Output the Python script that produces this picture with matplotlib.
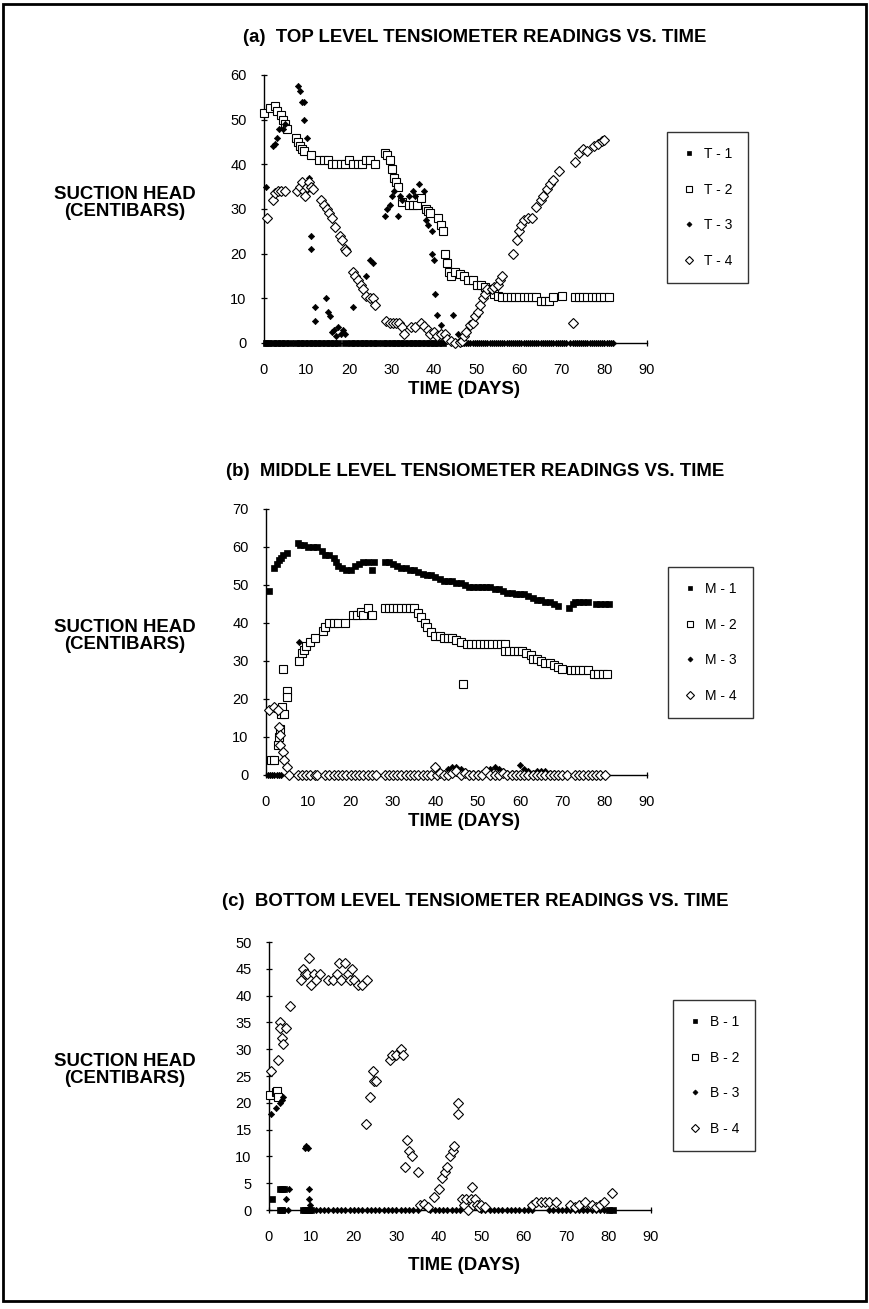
import matplotlib.pyplot as plt
from matplotlib.patches import Rectangle

plt.rcParams['font.family'] = ['Liberation Sans', 'DejaVu Sans']

### (a) TOP LEVEL ###
T1_day = [0.5, 1, 2, 3, 4, 5, 6, 7.5, 8.5, 9.5, 10.5, 11.5, 12.5, 13.5, 14.5, 15.5,
          16.5, 17.5, 19, 20.5, 21.5, 22.5, 23.5, 24.5, 25.5, 26.5, 28, 29, 30,
          31, 32, 33, 34, 35, 36, 37, 38, 39, 40, 41, 42]
T1_val = [0] * len(T1_day)

T2_day = [0, 1.5, 2.5, 3, 4, 4.5, 5, 5.5, 7.5, 8, 8.5, 9, 9.5, 11, 13, 14, 15, 16, 17,
          18, 19, 20, 21, 22, 23, 24, 25, 26, 28.5, 29, 29.5, 30, 30.5, 31, 31.5,
          32.5, 34, 35, 36, 37, 38, 38.5, 39, 41, 41.5, 42, 42.5, 43, 43.5, 44, 45,
          46, 47, 48, 49, 50, 51, 52, 53, 54, 55, 56, 57, 58, 59, 60, 61, 62, 63,
          64, 65, 66, 67, 68, 70, 73, 74, 75, 76, 77, 78, 79, 80, 81]
T2_val = [51.5, 52.5, 53, 52, 51, 50, 49, 48, 46, 45, 44, 43.5, 43, 42, 41, 41, 41, 40, 40,
          40, 40, 41, 40, 40, 40, 41, 41, 40, 42.5, 42, 41, 39, 37, 36, 35,
          31.5, 31, 31, 31, 32.5, 30, 29.5, 29, 28, 26.5, 25, 20, 18, 16, 15, 16,
          15.5, 15, 14, 14, 13, 13, 12.5, 12, 11, 10.5, 10.2, 10.2, 10.2, 10.2, 10.2, 10.2, 10.2, 10.2,
          10.2, 9.3, 9.3, 9.3, 10.2, 10.5, 10.2, 10.2, 10.2, 10.2, 10.2, 10.2, 10.2, 10.2, 10.2]

T3_day = [0.5, 2, 2.5, 3, 3.5, 4.5, 5, 8, 8.5, 9, 9.5, 9.5, 10, 10.5, 11, 11, 12, 12,
          14.5, 15, 15.5, 16, 16.5, 17, 17.5, 18, 18.5, 19, 21, 24, 25, 25.5,
          28.5, 29, 29.5, 30, 30.5, 31.5, 32, 32.5, 34, 35, 35.5, 36.5, 37.5, 38,
          38.5, 39.5, 39.5, 40, 40.2, 40.6, 41.7, 44.3, 45.5,
          46, 46.5, 47, 47.5, 48, 48.5, 49, 49.5, 50, 50.5, 51, 51.5, 52, 52.5, 53,
          53.5, 54, 54.5, 55, 55.5, 56, 56.5, 57, 57.5, 58, 58.5, 59, 59.5, 60,
          60.5, 61, 61.5, 62, 62.5, 63, 63.5, 64, 64.5, 65, 65.5, 66, 66.5, 67,
          67.5, 68, 68.5, 69, 69.5, 70, 70.5, 71, 72, 72.5, 73, 73.5, 74, 74.5,
          75, 75.5, 76, 76.5, 77, 77.5, 78, 78.5, 79, 79.5, 80, 80.5, 81, 81.5, 82]
T3_val = [35, 44, 44.5, 46, 48, 48, 49, 57.5, 56.5, 54, 54, 50, 46, 37, 24, 21, 8, 5,
          10, 7, 6, 2.5, 3, 1.5, 3.5, 2, 3, 2, 8, 15, 18.5, 18,
          28.5, 30, 31, 33, 34, 28.5, 33, 32, 33, 34, 33, 35.5, 34, 27.5,
          26.5, 25, 20, 18.5, 11, 6.3, 4, 6.3, 2] + [0] * 72

T4_day = [0.8, 2, 2.7, 3.3, 4, 5, 7.8, 8.5, 9, 9.3, 9.7, 10, 10.5, 11, 11.5, 13.5, 14,
          14.7, 15.3, 16, 16.7, 17.8, 18.3, 19, 19.2, 21, 21.5, 22, 22.7, 23.3, 24,
          25, 25.5, 26, 28.7, 29.5, 30.3, 31, 31.8, 32.5, 33, 34.5, 35.5, 36.8, 37.5,
          38.5, 39, 40, 40.7, 41.5, 42.5, 43, 44, 45, 46, 46.5, 47, 47.5, 48.3, 49,
          49.5, 50.3, 50.8, 51.5, 52, 52.5, 53.5, 54, 55, 55.5, 56, 58.5, 59.5, 60,
          60.5, 61, 62, 63, 64, 65, 65.5, 66.5, 67.3, 68, 69.3, 72.5, 73, 74, 75,
          76, 77.5, 78.5, 79.5, 80]
T4_val = [28, 32, 33.5, 34, 34, 34, 34, 35, 36, 34, 33, 35, 36, 35, 34.5, 32, 31,
          30, 29, 28, 26, 24, 23, 21, 20.5, 16, 15, 14, 13, 12, 10.5,
          10, 10, 8.5, 5, 4.5, 4.5, 4.5, 4.5, 3.5, 2, 3.5, 3.5, 4.5, 3.8,
          3, 2, 2.5, 1.5, 2, 2, 1, 0.5, 0, 0.3, 0.5, 1.5, 2.5, 4, 4.5,
          6, 7, 8.5, 10, 11, 12, 12, 12.5, 13, 14, 15, 20, 23, 25,
          26.5, 27.5, 28, 28, 30.5, 32, 33, 34.5, 35.5, 36.5, 38.5, 4.5, 40.5, 42.5, 43.5,
          43, 44, 44.5, 45.3, 45.5]

### (b) MIDDLE LEVEL ###
M1_day = [0.8, 2, 2.5, 3, 3.5, 4, 5, 7.5, 8, 9, 10, 11, 12, 13.3, 14, 15, 16, 16.5, 17,
          18, 19, 20, 21, 22, 23, 24, 25, 25.5, 28, 29, 30, 31, 32, 33, 34, 35, 36,
          37, 38, 39, 40, 41, 42, 43, 44, 45, 46, 47, 48, 49, 50, 51, 52, 53, 54,
          55, 56, 57, 58, 59, 60, 61, 62, 63, 64, 65, 66, 67, 68, 69, 71.5, 72.5,
          73, 74, 75, 76, 78, 79, 80, 81]
M1_val = [48.3, 54.5, 55.5, 56.5, 57, 58, 58.5, 61, 60.5, 60.5, 60, 60, 60, 59, 58, 58, 57, 56, 55,
          54.5, 54, 54, 55, 55.5, 56, 56, 54, 56, 56, 56, 55.5, 55, 54.5, 54.5, 54, 54, 53.5,
          53, 52.5, 52.5, 52, 51.5, 51, 51, 51, 50.5, 50.5, 50, 49.5, 49.5, 49.5, 49.5, 49.5, 49.5, 49,
          49, 48.5, 48, 48, 47.5, 47.5, 47.5, 47, 46.5, 46, 46, 45.5, 45.5, 45, 44.5, 44, 45,
          45.5, 45.5, 45.5, 45.5, 45, 45, 45, 45]

M2_day = [1.2, 2, 2.8, 3, 3.2, 3.5, 3.8, 3.9, 4.2, 5, 5, 7.8, 8.5, 9, 9.5, 10.5, 11.5,
          13.5, 14, 15, 16, 17, 18.7, 20.5, 21.5, 22.5, 23, 24, 25, 28, 29, 30, 31,
          32, 33, 34, 35, 36, 36.5, 37.5, 38, 39, 40, 41, 42, 43, 44, 45, 46, 46.5,
          47.5, 48.5, 49.5, 50.5, 51.5, 52.5, 53.5, 54.5, 55.5, 56.5, 56.5, 57.5,
          58.5, 59.5, 60.5, 61.5, 62.5, 63, 64, 65, 66, 67, 68, 69, 70, 72, 73, 74,
          75, 76, 77.5, 78.5, 79.5, 80.5]
M2_val = [4, 4, 8, 10, 12, 16, 18, 28, 16, 22, 20.5, 30, 32, 33, 34, 35, 36,
          38, 39, 40, 40, 40, 40, 42, 42, 43, 42, 44, 42, 44, 44, 44, 44,
          44, 44, 44, 44, 42.5, 41.5, 40, 39, 37.5, 36.5, 36.5, 36, 36, 36, 35.5, 35, 24,
          34.5, 34.5, 34.5, 34.5, 34.5, 34.5, 34.5, 34.5, 34.5, 34.5, 32.5, 32.5,
          32.5, 32.5, 32.5, 32, 31.5, 30.5, 30.5, 30, 29.5, 29.5, 29, 28.5, 28, 27.5, 27.5, 27.5,
          27.5, 27.5, 26.5, 26.5, 26.5, 26.5]

M3_day = [0.5, 1, 1.5, 2, 2.5, 3, 3.5, 7.7, 40, 41, 42, 43, 44, 45, 46, 47, 48, 49, 50,
          51, 52, 53, 54, 55, 56, 57, 58, 59, 60, 61, 62, 63, 64, 65, 66, 67, 68]
M3_val = [0, 0, 0, 0, 0, 0, 0, 35, 0, 0.5, 0.5, 1.5, 2, 2, 1.5, 1, 0.5, 0.5, 0.5,
          0.5, 1, 1.5, 2, 1.5, 1, 0.5, 0.5, 0.5, 2.5, 1.5, 1, 0.5, 1, 1, 1, 0.5, 0.5]

M4_day = [0.8, 2, 2.8, 3, 3.2, 3.3, 4, 4.2, 5, 5.5, 7.5, 8.5, 9.5, 10.5, 11.5, 12,
          14, 15, 16, 17, 18, 19, 20, 21, 22, 23, 24, 25, 26, 28, 29, 30, 31, 32, 33,
          34, 35, 36, 37, 38, 39, 40, 40.5, 41, 42, 43, 44, 45, 46, 47, 48, 49, 50,
          51, 52, 53, 54, 55, 56, 57, 58, 59, 60, 61, 62, 63, 64, 65, 66, 67, 68, 69,
          70, 71, 73, 74, 75, 76, 77, 78, 79, 80]
M4_val = [17, 18, 17, 12.5, 10.5, 8, 6, 4, 2, 0, 0, 0, 0, 0, 0, 0,
          0, 0, 0, 0, 0, 0, 0, 0, 0, 0, 0, 0, 0, 0, 0, 0, 0, 0, 0,
          0, 0, 0, 0, 0, 0, 2.2, 0, 0.5, 0, 0, 0.5, 1, 0, 0.5, 0, 0, 0,
          0, 1, 0, 0, 0, 0.5, 0, 0, 0, 0, 0, 0, 0, 0, 0, 0, 0, 0, 0,
          0, 0, 0, 0, 0, 0, 0, 0, 0, 0]

### (c) BOTTOM LEVEL ###
B1_day = [0.8, 2.5, 3, 3.5, 2.5, 3, 8, 8.5, 9, 9.5, 10, 80, 81]
B1_val = [2, 4, 4, 4, 0, 0, 0, 0, 0, 0, 0, 0, 0]

B2_day = [0.3, 1.7, 2, 2.2]
B2_val = [21.5, 22, 22.2, 21]

B3_day = [0.5, 1.7, 2.5, 3, 3.2, 4.8, 4, 3.5, 4.5, 8.5, 8.8, 9.2, 9.5, 9.5, 9.6,
          10, 11, 12, 13, 14, 15, 16, 17, 18, 19, 20, 21, 22, 23, 24, 25, 26, 27,
          28, 29, 30, 31, 32, 33, 34, 35, 38, 39, 40, 41, 42, 43, 44, 45, 50, 51,
          52, 53, 54, 55, 56, 57, 58, 59, 60, 61, 62, 66, 67, 68, 69, 70, 71, 72,
          73, 74, 75, 76, 77, 78, 79]
B3_val = [18, 19, 20, 20.5, 21, 4, 2, 0, 0, 11.5, 12, 11.5, 4, 2, 1] + [0] * 61

B4_day = [0.5, 2.1, 2.5, 2.7, 3, 3.2, 4, 5, 7.5, 8, 8.5, 9, 9.5, 10, 10.5, 11, 12,
          14, 15, 16, 16.5, 17, 18, 18.5, 19, 19.5, 20, 21, 22, 23, 22.8, 23.8,
          24.5, 24.8, 25.3, 28.5, 29, 30, 31, 31.5, 32, 32.6, 33, 33.6, 35, 35.5,
          36.5, 37.5, 38.8, 40, 40.8, 41.5, 42, 42.7, 43.3, 43.6, 44.5, 44.6, 45.5,
          46, 46.5, 47, 47.5, 47.8, 48, 48.5, 49, 49.5, 50, 51, 62, 63, 64, 65, 66,
          67.5, 71, 72, 73, 74.5, 76, 77, 78, 79, 80.7]
B4_val = [26, 28, 35, 34, 32, 31, 34, 38, 43, 45, 44, 44, 47, 42, 44, 43, 44,
          43, 43, 44, 46, 43, 46, 44, 43, 45, 43, 42, 42, 43, 16, 21,
          26, 24, 24, 28, 29, 29, 30, 29, 8, 13, 11, 10, 7, 1,
          1.2, 0.5, 2.5, 4, 6, 7, 8, 10, 11, 12, 20, 18, 2,
          1, 2, 0, 2, 4.3, 1, 2, 1, 0.5, 1, 0.5, 1, 1.5, 1.5, 1.5, 1.5,
          1.5, 1, 0.5, 1, 1.5, 1, 0.5, 1, 1.5, 3.2]

TITLES = ["(a)  TOP LEVEL TENSIOMETER READINGS VS. TIME",
          "(b)  MIDDLE LEVEL TENSIOMETER READINGS VS. TIME",
          "(c)  BOTTOM LEVEL TENSIOMETER READINGS VS. TIME"]

# marker look for the 4 instruments of every level
STYLES = [
    dict(marker='s', ms=4.2, mfc='black', mec='black', mew=0.5),
    dict(marker='s', ms=6.0, mfc='white', mec='black', mew=0.8),
    dict(marker='D', ms=3.2, mfc='black', mec='black', mew=0.5),
    dict(marker='D', ms=5.2, mfc='white', mec='black', mew=0.8),
]

W, H = 870, 1309
BIG = 13.4


def fx(px):
    return px / W


def fy(py):
    return 1 - py / H


def drawPanel(fig, box, series, labels, ymax, ystep, title, titleY, xlabY, ylabY, legBox):
    x0, x1, ytop, ybot = box
    ax = fig.add_axes([fx(x0), fy(ybot), fx(x1 - x0), (ybot - ytop) / H])
    for (days, vals), lab, st in zip(series, labels, STYLES):
        ax.plot(days, vals, linestyle='none', label=lab, clip_on=False, zorder=3, **st)
    ax.set_xlim(0, 90)
    ax.set_ylim(0, ymax)
    ax.set_xticks(range(0, 91, 10))
    ax.set_yticks(range(0, ymax + 1, ystep))
    for s in ['top', 'right']:
        ax.spines[s].set_visible(False)
    for s in ['left', 'bottom']:
        ax.spines[s].set_linewidth(1.0)
    ax.tick_params(axis='both', direction='inout', length=5, width=0.9, labelsize=10.5)
    ax.tick_params(axis='x', pad=12)
    ax.tick_params(axis='y', pad=10)

    fig.text(fx(475), fy(titleY), title, ha='center', va='center', fontsize=BIG, fontweight='bold')
    fig.text(fx(464), fy(xlabY), 'TIME (DAYS)', ha='center', va='center', fontsize=BIG, fontweight='bold')
    fig.text(fx(125), fy(ylabY), 'SUCTION HEAD\n(CENTIBARS)', ha='center', va='center',
             fontsize=BIG, fontweight='bold', linespacing=1.05)

    leg = ax.legend(loc='upper left', bbox_to_anchor=(fx(legBox[0]), fy(legBox[1])),
                    bbox_transform=fig.transFigure, frameon=True, fancybox=False,
                    edgecolor='black', fontsize=10, markerscale=0.8, handlelength=1.0,
                    handletextpad=0.6, labelspacing=1.55, borderpad=1.1, borderaxespad=0)
    leg.get_frame().set_linewidth(1.0)
    return ax


fig = plt.figure(figsize=(8.7, 13.09), dpi=100)

# page border of the scanned figure
fig.patches.append(Rectangle((fx(3), fy(1301)), fx(863), 1297 / H, transform=fig.transFigure,
                             fill=False, edgecolor='black', linewidth=2))

drawPanel(fig, (264, 647, 75, 343),
          [(T1_day, T1_val), (T2_day, T2_val), (T3_day, T3_val), (T4_day, T4_val)],
          ['T - 1', 'T - 2', 'T - 3', 'T - 4'], 60, 10, TITLES[0], 38, 390, 203, (667, 132))

drawPanel(fig, (266, 647, 509, 775),
          [(M1_day, M1_val), (M2_day, M2_val), (M3_day, M3_val), (M4_day, M4_val)],
          ['M - 1', 'M - 2', 'M - 3', 'M - 4'], 70, 10, TITLES[1], 472, 822, 636, (668, 567))

drawPanel(fig, (269, 651, 942, 1210),
          [(B1_day, B1_val), (B2_day, B2_val), (B3_day, B3_val), (B4_day, B4_val)],
          ['B - 1', 'B - 2', 'B - 3', 'B - 4'], 50, 5, TITLES[2], 902, 1265, 1070, (673, 1000))

plt.savefig('out.png', dpi=100)
